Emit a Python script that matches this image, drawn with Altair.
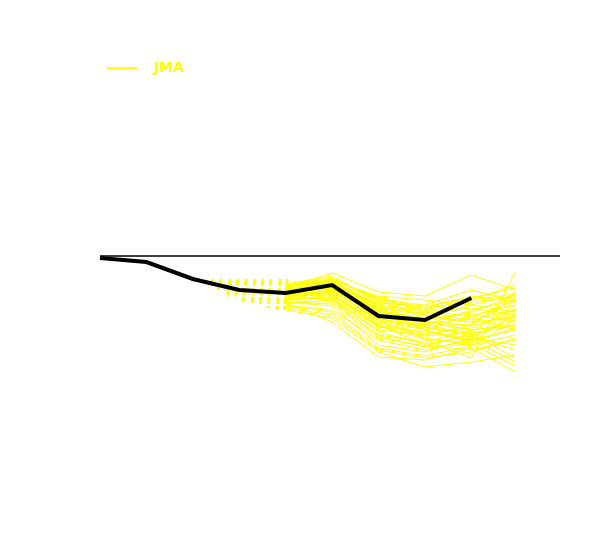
import altair as alt
import pandas as pd

# observed / analysis line (lead index 0..8)
obs_steps = [0, 1, 2, 3, 4, 5, 6, 7, 8]
obs_vals = [-2, -6, -23, -34, -37, -29, -60, -64, -42]

# ensemble members, values at these leads
ens_steps = [4, 5, 6, 7, 8, 8.95]
ens_members = [
    [-32, -17, -36, -40, -19, -34],
    [-29, -22, -44, -49, -34, -44],
    [-34, -26, -49, -54, -44, -29],
    [-36, -29, -54, -62, -49, -39],
    [-31, -24, -42, -56, -64, -54],
    [-39, -34, -59, -69, -54, -44],
    [-44, -39, -64, -74, -59, -49],
    [-28, -20, -46, -52, -40, -46],
    [-42, -44, -74, -79, -69, -59],
    [-49, -54, -84, -94, -84, -74],
    [-54, -62, -96, -111, -106, -99],
    [-47, -66, -101, -104, -92, -116],
    [-37, -32, -56, -84, -102, -16],
    [-40, -36, -62, -72, -79, -64],
    [-33, -27, -50, -66, -74, -69],
    [-35, -31, -52, -59, -66, -62],
    [-43, -41, -69, -89, -94, -84],
    [-38, -35, -64, -82, -89, -79],
    [-30, -25, -40, -44, -49, -56],
    [-45, -46, -79, -86, -74, -69],
    [-41, -37, -72, -64, -56, -39],
    [-32, -28, -47, -50, -42, -32],
    [-46, -50, -89, -96, -82, -89],
    [-36, -33, -58, -74, -84, -106],
    [-39, -40, -66, -78, -72, -54],
    [-34, -30, -53, -68, -62, -44],
    [-31, -23, -43, -54, -61, -74],
    [-50, -56, -92, -100, -90, -64],
    [-37, -38, -68, -80, -76, -49],
    [-44, -42, -76, -88, -80, -94],
    [-29, -27, -48, -57, -52, -59],
    [-40, -34, -60, -70, -68, -42],
    [-35, -32, -55, -63, -58, -66],
    [-52, -59, -94, -102, -96, -82],
    [-33, -29, -51, -74, -86, -72],
    [-42, -43, -71, -76, -84, -52],
    [-38, -31, -57, -65, -70, -36],
    [-31, -26, -45, -60, -66, -46],
    [-46, -48, -82, -90, -78, -102],
    [-34, -28, -50, -58, -44, -38],
    [-40, -39, -70, -83, -87, -56],
    [-43, -36, -63, -71, -77, -70],
    [-29, -24, -41, -52, -46, -41],
    [-48, -44, -80, -91, -88, -110],
    [-36, -30, -55, -67, -81, -60],
]

# short dashed spread marks between lead 2.4 and 4
tick_x_bottom = [2.37, 2.54, 2.74, 2.91, 3.08, 3.28, 3.45, 3.62, 3.81, 3.97]
tick_x_top = [2.44, 2.61, 2.80, 2.97, 3.15, 3.34, 3.51, 3.68, 3.88, 4.03]
tick_y_top = [-23, -23, -23, -23, -23, -23, -23, -23, -23, -23]
tick_y_bottom = [-32, -34, -41, -42, -46, -47, -49, -52, -54, -54]

model_name = "JMA"

ens_rows = []
for m, vals in enumerate(ens_members):
    for s, v in zip(ens_steps, vals):
        ens_rows.append({"member": m, "step": s, "value": v, "model": model_name})
ens_df = pd.DataFrame(ens_rows)
obs_df = pd.DataFrame({"step": obs_steps, "value": obs_vals})
tick_df = pd.DataFrame({"x": tick_x_top, "x2": tick_x_bottom,
                        "y": tick_y_top, "y2": tick_y_bottom})
zero_df = pd.DataFrame({"value": [0]})

xs = alt.Scale(domain=[0, 9.91])
ys = alt.Scale(domain=[-200, 200])

ens = alt.Chart(ens_df).mark_line(strokeWidth=1).encode(
    x=alt.X("step:Q", scale=xs, axis=None),
    y=alt.Y("value:Q", scale=ys, axis=None),
    detail="member:N",
    color=alt.Color("model:N",
                    scale=alt.Scale(domain=[model_name], range=["#ffff00"]),
                    legend=alt.Legend(title=None, orient="none", legendX=6, legendY=-4,
                                      symbolType="stroke", symbolSize=900,
                                      symbolStrokeWidth=2, labelColor="#ffff00",
                                      labelFont="DejaVu Sans", labelFontWeight="bold",
                                      labelFontSize=14, labelOffset=16)),
)

ticks = alt.Chart(tick_df).mark_rule(color="#ffff00", strokeWidth=2.8,
                                     strokeDash=[7, 2]).encode(
    x=alt.X("x:Q", scale=xs, axis=None), x2="x2:Q",
    y=alt.Y("y:Q", scale=ys, axis=None), y2="y2:Q",
)

obs = alt.Chart(obs_df).mark_line(color="black", strokeWidth=4).encode(
    x=alt.X("step:Q", scale=xs, axis=None),
    y=alt.Y("value:Q", scale=ys, axis=None),
)

zero = alt.Chart(zero_df).mark_rule(color="black", strokeWidth=1.5).encode(
    y=alt.Y("value:Q", scale=ys, axis=None),
)

chart = alt.layer(ens, ticks, obs, zero).properties(
    width=460, height=400,
    padding={"left": 92, "top": 48, "right": 10, "bottom": 10},
    autosize=alt.AutoSizeParams(type="none"),
    background="white",
).configure_view(stroke=None)

chart.save("out.html", embed_options={"renderer": "svg", "actions": False})
